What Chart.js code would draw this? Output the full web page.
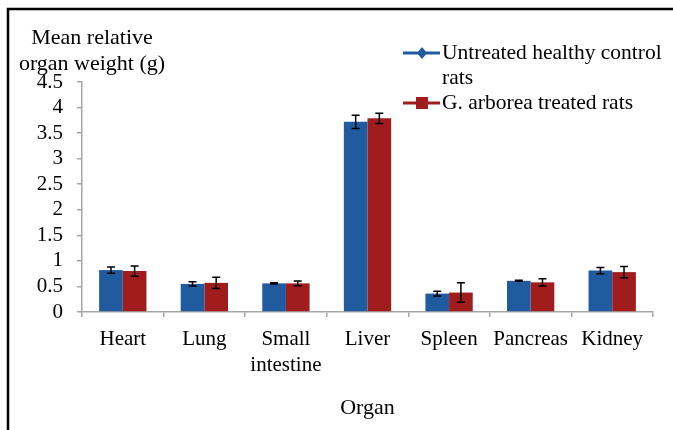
<!DOCTYPE html>
<html>
<head>
<meta charset="utf-8">
<script src="https://cdn.jsdelivr.net/npm/chart.js@4/dist/chart.umd.min.js"></script>
<style>
  html, body { margin: 0; padding: 0; background: #fff; }
  #wrap { position: relative; width: 673px; height: 430px; }
</style>
</head>
<body>
<div id="wrap"><canvas id="organChart" width="673" height="430"></canvas></div>
<script>
// Datos
const organs = ['Heart', 'Lung', ['Small', 'intestine'], 'Liver', 'Spleen', 'Pancreas', 'Kidney'];
const controlMeans = [0.82, 0.55, 0.56, 3.72, 0.36, 0.61, 0.81];
const controlErr = [0.06, 0.04, 0.01, 0.13, 0.045, 0.01, 0.06];
const treatedMeans = [0.80, 0.57, 0.56, 3.79, 0.38, 0.58, 0.78];
const treatedErr = [0.10, 0.11, 0.045, 0.10, 0.19, 0.07, 0.11];
const yTicks = [0, 0.5, 1, 1.5, 2, 2.5, 3, 3.5, 4, 4.5];

const serif = '"Liberation Serif", "Times New Roman", serif';
const blue = '#1f5b9e';
const red = '#a11c1d';

// Barras de error
const errorBars = {
    id: 'errorBars',
    afterDatasetsDraw(chart) {
        const ctx = chart.ctx;
        const y = chart.scales.y;
        const errs = [controlErr, treatedErr];
        ctx.save();
        ctx.strokeStyle = '#000';
        ctx.lineWidth = 1.5;
        chart.data.datasets.forEach(function(ds, di) {
            chart.getDatasetMeta(di).data.forEach(function(bar, i) {
                const v = ds.data[i];
                const yTop = y.getPixelForValue(v + errs[di][i]);
                const yBot = y.getPixelForValue(v - errs[di][i]);
                ctx.beginPath();
                ctx.moveTo(bar.x, yTop); ctx.lineTo(bar.x, yBot);
                ctx.moveTo(bar.x - 4, yTop); ctx.lineTo(bar.x + 4, yTop);
                ctx.moveTo(bar.x - 4, yBot); ctx.lineTo(bar.x + 4, yBot);
                ctx.stroke();
            });
        });
        ctx.restore();
    }
};

// Marco, titulo del eje y leyenda
const decorations = {
    id: 'decorations',
    afterDraw(chart) {
        const ctx = chart.ctx;
        ctx.save();
        // marco
        ctx.strokeStyle = '#000';
        ctx.lineWidth = 2.5;
        ctx.beginPath();
        ctx.moveTo(8, 430);
        ctx.lineTo(8, 9);
        ctx.lineTo(673, 9);
        ctx.stroke();

        ctx.fillStyle = '#000';
        ctx.font = '22px ' + serif;
        ctx.textAlign = 'center';
        ctx.textBaseline = 'middle';
        ctx.fillText('Mean relative', 92, 38);
        ctx.fillText('organ weight (g)', 92, 64);

        // leyenda
        ctx.textAlign = 'left';
        ctx.font = '21.5px ' + serif;
        ctx.lineWidth = 3;
        ctx.strokeStyle = blue;
        ctx.beginPath(); ctx.moveTo(403, 53); ctx.lineTo(440, 53); ctx.stroke();
        ctx.fillStyle = blue;
        ctx.beginPath();
        ctx.moveTo(422, 47); ctx.lineTo(427, 53); ctx.lineTo(422, 59); ctx.lineTo(417, 53);
        ctx.closePath(); ctx.fill();
        ctx.fillStyle = '#000';
        ctx.fillText('Untreated healthy control', 442, 53);
        ctx.fillText('rats', 442, 78);

        ctx.strokeStyle = red;
        ctx.beginPath(); ctx.moveTo(403, 103); ctx.lineTo(440, 103); ctx.stroke();
        ctx.fillStyle = red;
        ctx.fillRect(416, 97, 12, 12);
        ctx.fillStyle = '#000';
        ctx.fillText('G. arborea treated rats', 442, 103);
        ctx.restore();
    }
};

new Chart(document.getElementById('organChart'), {
    type: 'bar',
    data: {
        labels: organs,
        datasets: [{
            label: 'Untreated healthy control rats',
            data: controlMeans,
            backgroundColor: blue
        }, {
            label: 'G. arborea treated rats',
            data: treatedMeans,
            backgroundColor: red
        }]
    },
    options: {
        responsive: false,
        animation: false,
        devicePixelRatio: 1,
        categoryPercentage: 0.58,
        barPercentage: 1.0,
        layout: { padding: { left: 0, top: 82, right: 20, bottom: 0 } },
        plugins: {
            legend: { display: false },
            tooltip: { enabled: false }
        },
        scales: {
            x: {
                afterFit: function(scale) { scale.height = 118; },
                border: { display: true, color: '#a6a6a6', width: 1.5 },
                grid: {
                    offset: true,
                    drawOnChartArea: false,
                    drawTicks: true,
                    tickLength: 5,
                    color: '#a6a6a6',
                    lineWidth: 1.5
                },
                ticks: {
                    color: '#000',
                    padding: 9,
                    maxRotation: 0,
                    autoSkip: false,
                    font: { family: serif, size: 21, lineHeight: 1.24 }
                },
                title: {
                    display: true,
                    text: 'Organ',
                    color: '#000',
                    padding: { top: 0, bottom: 9 },
                    font: { family: serif, size: 22 }
                }
            },
            y: {
                min: 0,
                max: 4.5,
                afterFit: function(scale) { scale.width = 82; },
                afterBuildTicks: function(scale) {
                    scale.ticks = yTicks.map(function(v) { return { value: v }; });
                },
                border: { display: true, color: '#a6a6a6', width: 1.5 },
                grid: {
                    drawOnChartArea: false,
                    drawTicks: true,
                    tickLength: 5,
                    color: '#a6a6a6',
                    lineWidth: 1.5
                },
                ticks: {
                    color: '#000',
                    padding: 14,
                    autoSkip: false,
                    font: { family: serif, size: 21 },
                    callback: function(v) { return String(v); }
                }
            }
        }
    },
    plugins: [errorBars, decorations]
});
</script>
</body>
</html>
